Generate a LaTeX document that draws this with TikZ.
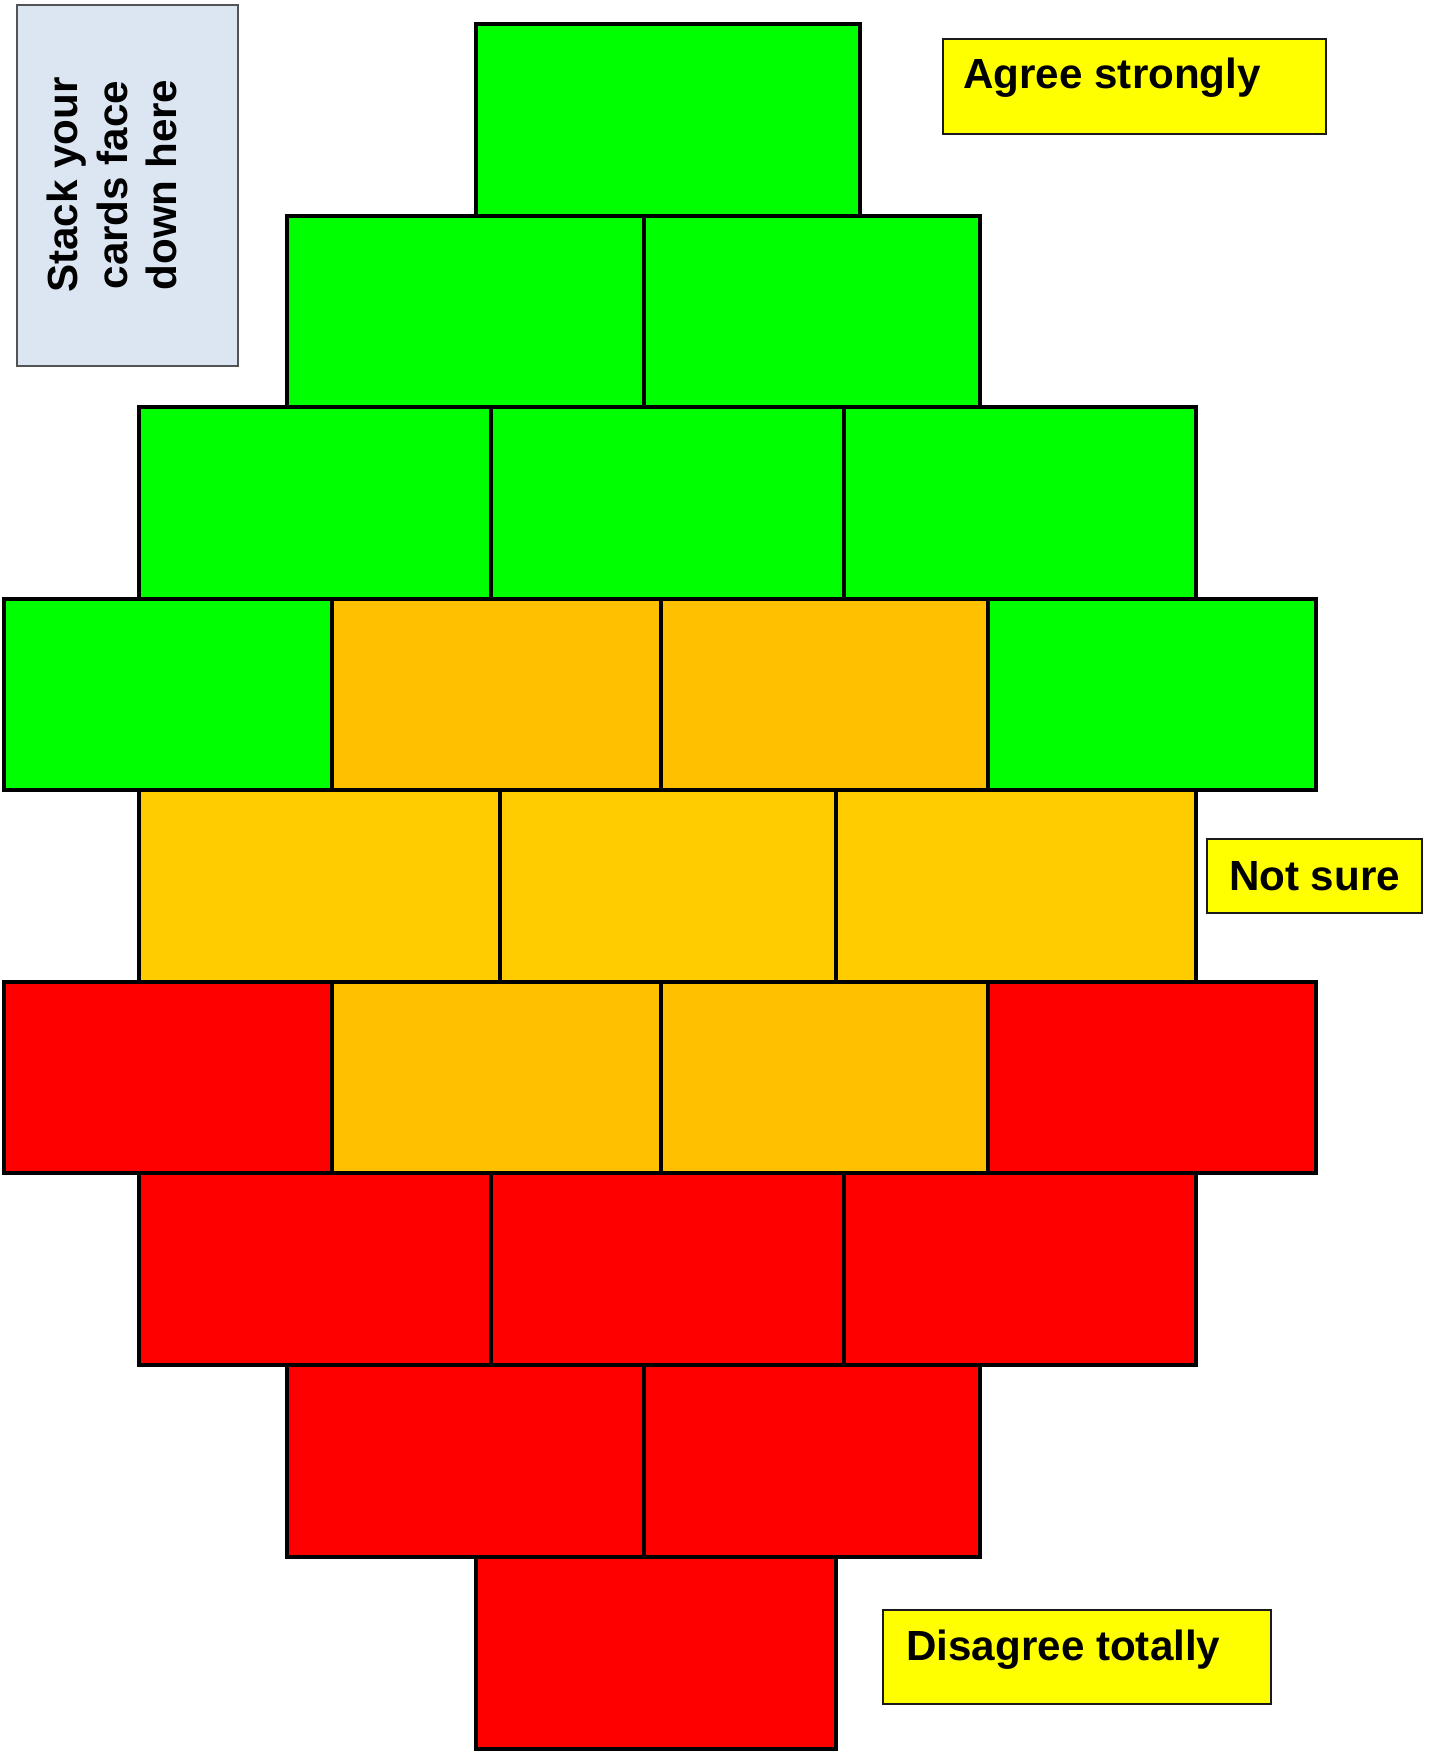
\documentclass[tikz,border=0pt]{standalone}
\usepackage{fontspec}
\setmainfont{Liberation Sans}
\usepackage{tikz}
\usetikzlibrary{positioning}
\definecolor{agreegreen}{HTML}{00FF00}
\definecolor{unsureamber}{HTML}{FFC000}
\definecolor{unsuregold}{HTML}{FFCC00}
\definecolor{disagreered}{HTML}{FF0000}
\definecolor{tagyellow}{HTML}{FFFF00}
\definecolor{stackblue}{HTML}{DCE6F2}
\definecolor{edge}{HTML}{1A1A1A}

\begin{document}
\begin{tikzpicture}[x=0.02cm,y=-0.02cm, card/.style={draw=black,line width=1.9pt,line join=miter}, tag/.style={draw=edge,fill=tagyellow,line width=1pt,inner sep=0pt}, tagtext/.style={font=\fontsize{24}{28.3}\selectfont\bfseries,inner sep=0pt}]
  \useasboundingbox (0,0) rectangle (1431,1753);
  % stacking area
  \draw[draw=edge!75,fill=stackblue,line width=1.2pt] (17,5) rectangle (238,366);
  \node[tagtext,rotate=90,align=center] (stack) at (112,185) {Stack your\\cards face\\down here};
  % card rows, top to bottom: x-left/x-right/y-top/y-bottom/colour
  \foreach \xa/\xb/\ya/\yb/\c in {
      476/860/24/216/agreegreen,
      287/644/216/407/agreegreen, 644/980/216/407/agreegreen,
      139/491/407/599/agreegreen, 491/844/407/599/agreegreen, 844/1196/407/599/agreegreen,
      4/332/599/790/agreegreen, 332/661/599/790/unsureamber, 661/988/599/790/unsureamber, 988/1316/599/790/agreegreen,
      139/500/790/982/unsuregold, 500/836/790/982/unsuregold, 836/1196/790/982/unsuregold,
      4/332/982/1173/disagreered, 332/661/982/1173/unsureamber, 661/988/982/1173/unsureamber, 988/1316/982/1173/disagreered,
      139/491/1173/1365/disagreered, 491/844/1173/1365/disagreered, 844/1196/1173/1365/disagreered,
      287/644/1365/1557/disagreered, 644/980/1365/1557/disagreered,
      476/836/1557/1749/disagreered}
    {\draw[card,fill=\c] (\xa,\ya) rectangle (\xb,\yb);}
  % scale labels
  \node[tag,minimum width=7.66cm,minimum height=1.9cm,anchor=north west] (agree) at (942,38) {};
  \node[tagtext,anchor=base west] (agreelab) at (963,89) {Agree strongly};
  \node[tag,tagtext,minimum width=4.3cm,minimum height=1.48cm] (unsure) at (1314.5,876) {Not sure};
  \node[tag,minimum width=7.76cm,minimum height=1.88cm,anchor=north west] (disagree) at (882,1609) {};
  \node[tagtext,anchor=base west] (disagreelab) at (906,1660) {Disagree totally};
\end{tikzpicture}
\end{document}
